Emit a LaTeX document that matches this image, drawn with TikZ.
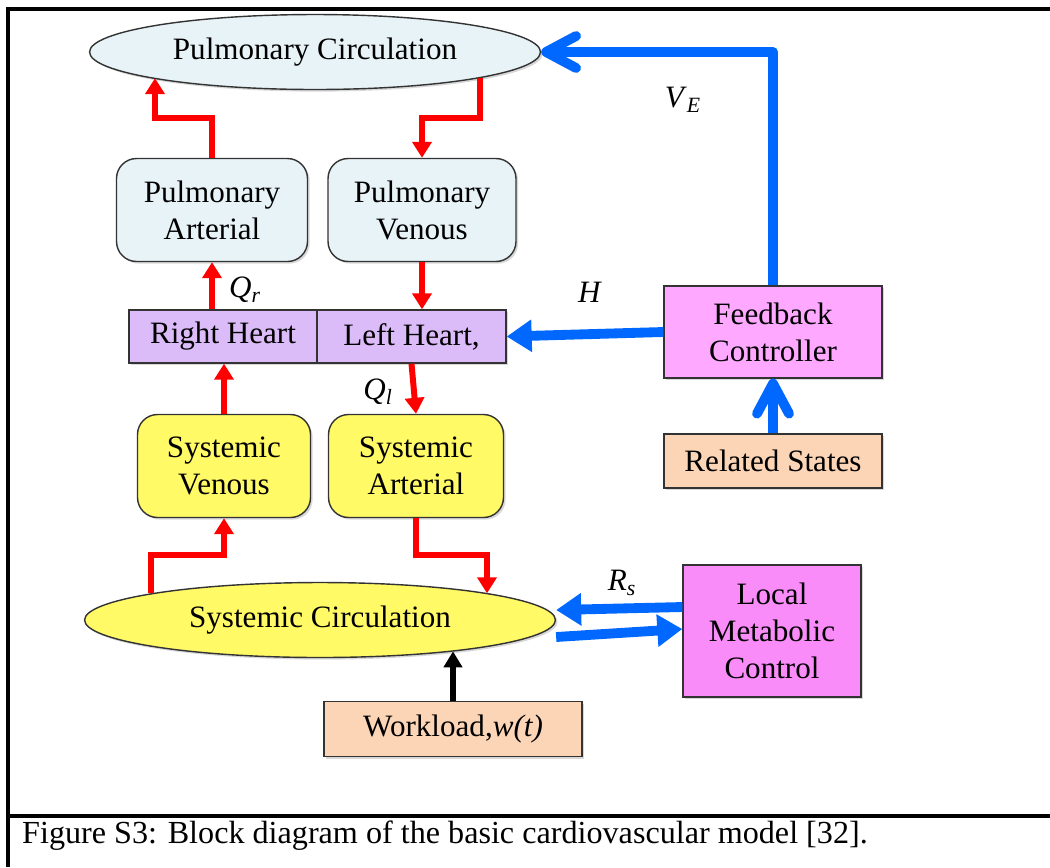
\documentclass[tikz,border=0pt]{standalone}
\usepackage{fontspec}
\setmainfont{Liberation Serif}
\usetikzlibrary{arrows.meta,shapes.geometric,shadows}
\definecolor{pulmblue}{RGB}{232,243,248}
\definecolor{heartlilac}{RGB}{220,188,248}
\definecolor{sysyellow}{RGB}{255,250,102}
\definecolor{ctrlpink}{RGB}{255,168,255}
\definecolor{localpink}{RGB}{250,140,250}
\definecolor{inputpeach}{RGB}{251,213,181}
\definecolor{ctrlblue}{RGB}{0,104,255}
\newcommand{\varlabel}[2]{\textit{#1}\textsubscript{\textit{#2}}}
\tikzset{%
  block/.style={draw=black!80,line width=0.8pt,align=center,inner sep=2pt,
    drop shadow={shadow xshift=1.2pt,shadow yshift=-1.2pt,fill=black!30}},
  roundblock/.style={block,rounded corners=0.4cm},
  oval/.style={block,ellipse,inner sep=0pt},
  flow/.style={-{Triangle[length=3.2mm,width=3.8mm]},red,line width=3.4pt},
  signal/.style={-{Triangle[length=5mm,width=6.2mm]},ctrlblue,line width=5.6pt},
  feedback/.style={-{Straight Barb[length=6mm,width=6.4mm,line cap=round,line join=round]},ctrlblue,line width=5.6pt,line join=round},
  load/.style={-{Triangle[length=3.2mm,width=3.6mm]},black,line width=3.4pt},
  frame/.style={line width=1.8pt}%
}

\begin{document}
\begin{tikzpicture}[
    x=0.02cm, y=-0.02cm,
    font=\fontsize{17.7}{21}\selectfont
]
\useasboundingbox (0,0) rectangle (1050,867);

% Outer frame and caption
\draw[frame] (1050,9) -| (8,867);
\draw[frame] (8,816) -- (1050,816);
\node[anchor=west, font=\fontsize{18.3}{21}\selectfont] (caption) at (16,836) {Figure S3: Block diagram of the basic cardiovascular model [32].};

% Pulmonary side
\node[oval, fill=pulmblue, minimum width=9.02cm, minimum height=1.5cm] (pcirc) at (315,52) {Pulmonary Circulation};
\node[roundblock, fill=pulmblue, minimum width=3.82cm, minimum height=2.06cm] (parterial) at (212,210) {Pulmonary\\Arterial};
\node[roundblock, fill=pulmblue, minimum width=3.76cm, minimum height=2.06cm] (pvenous) at (422,210) {Pulmonary\\Venous};

% Heart
\node[block, fill=heartlilac, minimum width=3.76cm, minimum height=1.06cm] (rheart) at (223,336.5) {Right Heart};
\node[block, fill=heartlilac, minimum width=3.78cm, minimum height=1.06cm] (lheart) at (411.5,336.5) {Left Heart,};

% Systemic side
\node[roundblock, fill=sysyellow, minimum width=3.46cm, minimum height=2.06cm] (svenous) at (224,466) {Systemic\\Venous};
\node[roundblock, fill=sysyellow, minimum width=3.5cm, minimum height=2.06cm] (sarterial) at (416,466) {Systemic\\Arterial};
\node[oval, fill=sysyellow, minimum width=9.42cm, minimum height=1.5cm] (scirc) at (320,620) {Systemic Circulation};
\node[block, fill=inputpeach, minimum width=5.16cm, minimum height=1.1cm] (workload) at (453,729) {Workload,\textit{w(t)}};

% Control blocks
\node[block, fill=ctrlpink, minimum width=4.36cm, minimum height=1.84cm] (fbctrl) at (773,332) {Feedback\\Controller};
\node[block, fill=inputpeach, minimum width=4.36cm, minimum height=1.08cm] (related) at (773,461) {Related States};
\node[block, fill=localpink, minimum width=3.56cm, minimum height=2.64cm] (local) at (772,631) {Local\\Metabolic\\Control};

% Blood flow
\coordinate (pa jog) at (155,118);
\coordinate (pv jog) at (422,118);
\coordinate (sv jog) at (224,555);
\coordinate (sa jog) at (487,555);
\draw[flow] (parterial.north) |- (pa jog) -- (pa jog |- pcirc.189);
\draw[flow] (pcirc.351) |- (pv jog) -- (pvenous.north);
\draw[flow] (parterial.south |- rheart.north) -- (parterial.south);
\draw[flow] (pvenous.south) -- (pvenous.south |- lheart.north);
\draw[flow] (svenous.north) -- (svenous.north |- rheart.south);
\draw[flow] (lheart.south) -- (sarterial.north);
\draw[flow] (scirc.171) |- (sv jog) -- (svenous.south);
\draw[flow] (sarterial.south) |- (sa jog) -- (sa jog |- scirc.9);
\draw[load] (workload.north) -- (workload.north |- scirc.-13);

% Control signals
\draw[feedback] (fbctrl.north) |- (pcirc.east);
\draw[signal] (fbctrl.west) -- (lheart.east);
\draw[feedback] (related.north) -- (fbctrl.south);
\draw[signal] ([yshift=0.48cm]local.west) -- ([yshift=0.2cm]scirc.east);
\draw[signal] ([yshift=-0.34cm]scirc.east) -- ([yshift=0.04cm]local.west);

% Variable labels
\node (ve) at (683,100) {\varlabel{V}{E}};
\node (hr) at (590,292) {\textit{H}};
\node (qr) at (245,290) {\varlabel{Q}{r}};
\node (ql) at (378,392) {\varlabel{Q}{l}};
\node (rs) at (622,583) {\varlabel{R}{s}};

\end{tikzpicture}
\end{document}
